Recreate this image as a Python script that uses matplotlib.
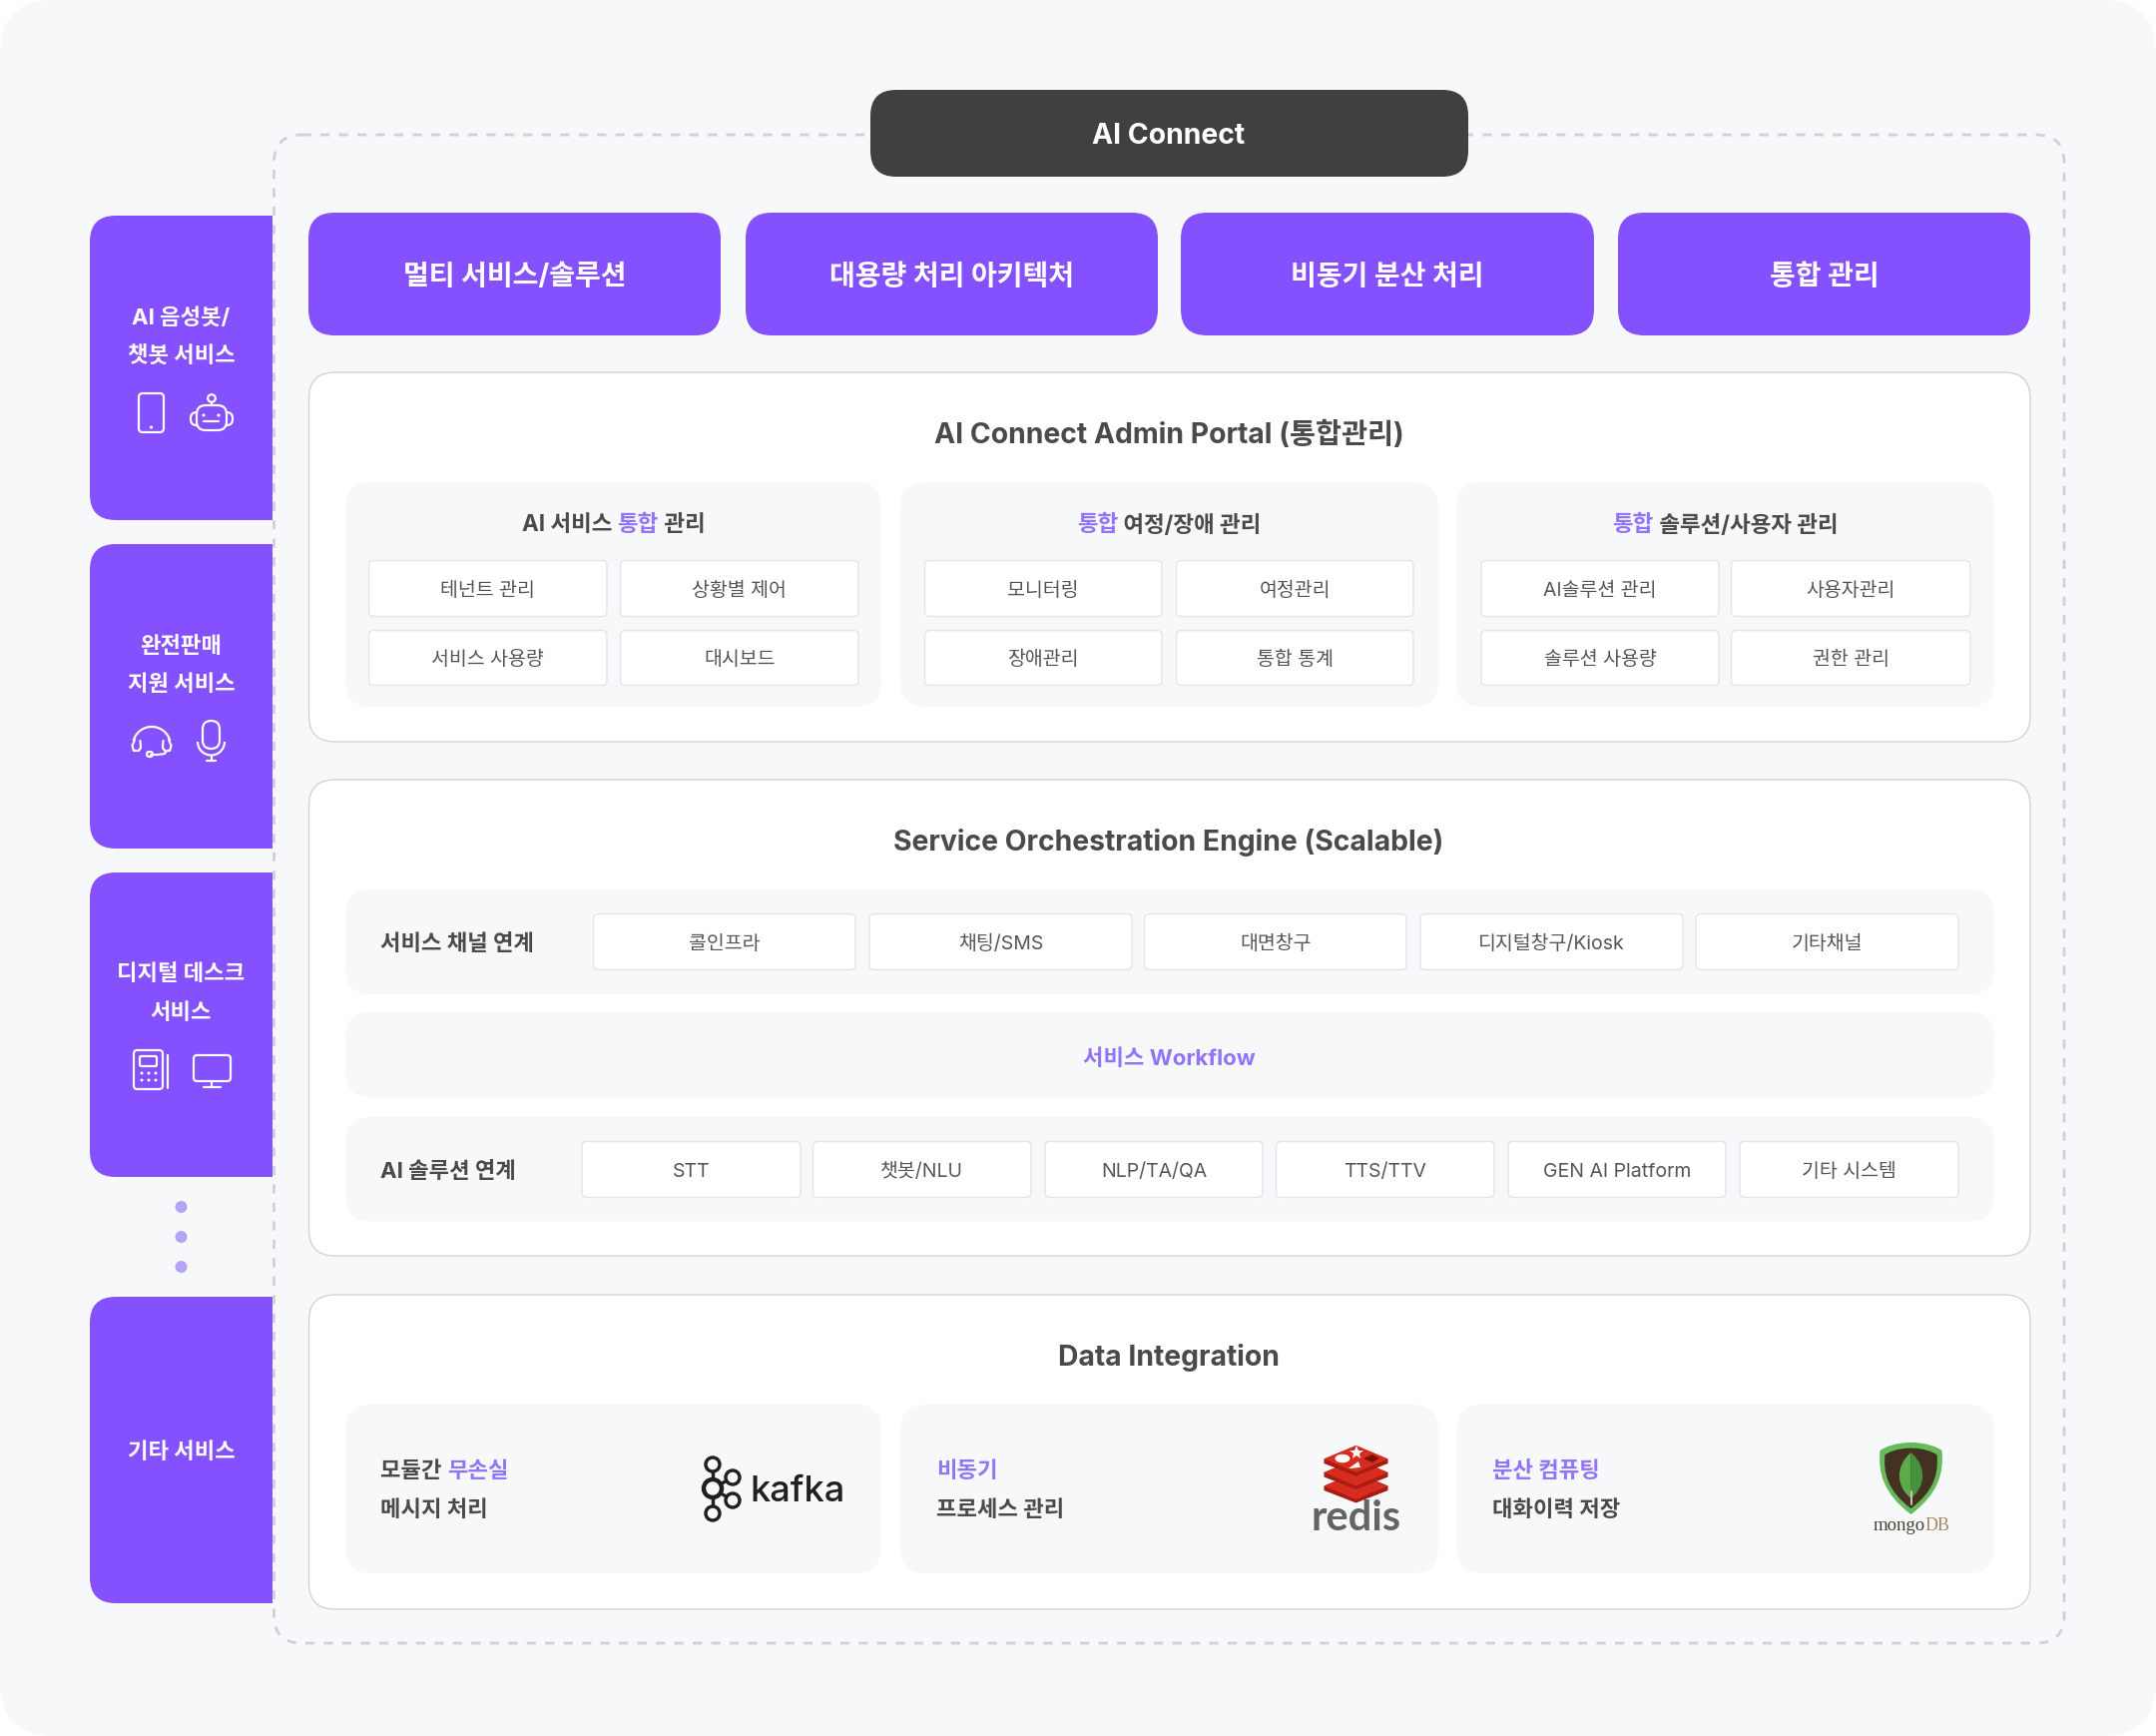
import matplotlib
matplotlib.use("Agg")
import matplotlib.pyplot as plt
from matplotlib.patches import FancyBboxPatch, PathPatch, Circle, Ellipse, Polygon, Arc
from matplotlib.path import Path

plt.rcParams['font.family'] = ['Inter', 'Noto Sans CJK KR', 'DejaVu Sans']

# labels
main_title = "AI Connect"
top_labels = ["멀티 서비스/솔루션", "대용량 처리 아키텍처", "비동기 분산 처리", "통합 관리"]
side_labels = [["AI 음성봇/", "챗봇 서비스"], ["완전판매", "지원 서비스"], ["디지털 데스크", "서비스"], ["기타 서비스"]]
portal_title = "AI Connect Admin Portal (통합관리)"
portal_heads = [[("AI 서비스 ", 0), ("통합", 1), (" 관리", 0)],
                [("통합", 1), (" 여정/장애 관리", 0)],
                [("통합", 1), (" 솔루션/사용자 관리", 0)]]
portal_cells = [["테넌트 관리", "상황별 제어", "서비스 사용량", "대시보드"],
                ["모니터링", "여정관리", "장애관리", "통합 통계"],
                ["AI솔루션 관리", "사용자관리", "솔루션 사용량", "권한 관리"]]
engine_title = "Service Orchestration Engine (Scalable)"
channel_label = "서비스 채널 연계"
channels = ["콜인프라", "채팅/SMS", "대면창구", "디지털창구/Kiosk", "기타채널"]
workflow_label = "서비스 Workflow"
solution_label = "AI 솔루션 연계"
solutions = ["STT", "챗봇/NLU", "NLP/TA/QA", "TTS/TTV", "GEN AI Platform", "기타 시스템"]
data_title = "Data Integration"
data_lines = [[("모듈간 ", 0), ("무손실", 1)], [("비동기", 1)], [("분산 컴퓨팅", 1)]]
data_lines2 = ["메시지 처리", "프로세스 관리", "대화이력 저장"]

PURPLE = "#8551FF"
ACCENT = "#9274FB"
DARK = "#4A4A4A"
GREY_BG = "#F7F8FA"
PX = 72 / 100  # one pixel in points

fig = plt.figure(figsize=(21.6, 17.39), dpi=100, facecolor="white")
ax = fig.add_axes([0, 0, 1, 1])
ax.set_xlim(0, 2160)
ax.set_ylim(1739, 0)
ax.axis("off")


def box(x0, y0, x1, y1, r, fc, ec="none", lw=0, **kw):
    p = FancyBboxPatch((x0, y0), x1 - x0, y1 - y0, boxstyle=f"round,pad=0,rounding_size={r}",
                       fc=fc, ec=ec, lw=lw * PX, **kw)
    ax.add_patch(p)
    return p


def label(x, y, s, size, color=DARK, weight="normal", ha="center", **kw):
    return ax.text(x, y, s, fontsize=size, color=color, fontweight=weight, ha=ha, va="center_baseline", **kw)


def mixed(x, y, parts, size, weight="bold", center=False):
    # colored runs of one line, put one after the other
    r = fig.canvas.get_renderer()
    ts = [label(x, y, s, size, ACCENT if c else DARK, weight, ha="left") for s, c in parts]
    ws = [t.get_window_extent(r).width for t in ts]
    cur = x - sum(ws) / 2 if center else x
    for t, w in zip(ts, ws):
        t.set_x(cur)
        cur += w


def side_panel(x0, y0, x1, y1, r=26):
    v = [(x1, y0), (x0 + r, y0), (x0, y0), (x0, y0 + r), (x0, y1 - r), (x0, y1), (x0 + r, y1), (x1, y1), (x1, y0)]
    c = [Path.MOVETO, Path.LINETO, Path.CURVE3, Path.CURVE3, Path.LINETO, Path.CURVE3, Path.CURVE3, Path.LINETO, Path.CLOSEPOLY]
    ax.add_patch(PathPatch(Path(v, c), fc=PURPLE, ec="none"))


def wline(xs, ys, color="white", lw=2.2):
    ax.plot(xs, ys, color=color, lw=lw * PX, solid_capstyle="round")


def wbox(x0, y0, x1, y1, r, fc="none", lw=2.2):
    box(x0, y0, x1, y1, r, fc, "white", lw)


def icons():
    # phone
    wbox(139, 394, 164, 433, 4)
    ax.add_patch(Circle((151.5, 428), 1.6, fc="white"))
    # robot
    wbox(191, 413, 233, 426, 6, PURPLE)
    wbox(197, 406, 227, 431, 9, PURPLE)
    ax.add_patch(Circle((212, 399), 3.8, fc="none", ec="white", lw=2.2 * PX))
    wline([212, 212], [403, 406], )
    ax.add_patch(Circle((204, 416), 1.6, fc="white"))
    ax.add_patch(Circle((219, 416), 1.6, fc="white"))
    wline([204, 219], [422, 422])
    # headset
    ax.add_patch(Arc((152, 747), 38, 38, theta1=195, theta2=345, ec="white", lw=2.2 * PX))
    wline([135, 132.5, 134, 139, 141, 140.5], [741, 747, 752, 752, 749, 742])
    wline([169, 171.5, 170, 165, 163, 163.5], [741, 747, 752, 752, 749, 742])
    wline([167, 165, 158, 151], [752, 755, 756, 756])
    wbox(147, 753, 153, 758, 2.5)
    # mic
    wbox(203, 722, 220, 750, 8.5)
    ax.add_patch(Arc((211.5, 743), 27, 27, theta1=0, theta2=180, ec="white", lw=2.2 * PX))
    wline([211.5, 211.5], [757, 762])
    wline([207, 216], [762, 762])
    # kiosk
    wbox(134, 1052, 163, 1091, 3.5)
    wbox(140, 1058, 157, 1068, 1.5)
    for dy in (1075, 1082):
        for dx in (142, 149, 156):
            ax.add_patch(Circle((dx, dy), 1.5, fc="white"))
    wline([168, 168], [1057, 1090])
    # monitor
    wbox(194, 1057, 231, 1083, 3.5)
    wline([212, 212], [1083, 1089])
    wline([204, 221], [1089, 1089])


def kafka_logo():
    c = "#231F20"
    hub = (714, 1491)
    for p, r in [((714, 1467), 7), ((734, 1480), 7), ((734, 1503), 7), ((714, 1516), 7)]:
        ax.plot([hub[0], p[0]], [hub[1], p[1]], color=c, lw=3.4 * PX, zorder=3)
        ax.add_patch(Circle(p, r, fc=GREY_BG, ec=c, lw=3.4 * PX, zorder=4))
    ax.add_patch(Circle(hub, 9, fc=GREY_BG, ec=c, lw=4.4 * PX, zorder=4))
    ax.text(798.5, 1504, "kafka", fontsize=26, color=c, family="Inter", fontweight="medium", ha="center", va="baseline")


def redis_logo():
    for off in (27, 13.5, 0):
        cx, t = 1358.5, 1448 + off
        ax.add_patch(Polygon([(cx - 32, t + 13.5), (cx, t), (cx + 32, t + 13.5), (cx + 32, t + 18), (cx, t + 27.5 + 3), (cx - 32, t + 18)],
                             fc="#A41E11", ec="none"))
        ax.add_patch(Polygon([(cx - 32, t + 13.5), (cx, t), (cx + 32, t + 13.5), (cx, t + 27)], fc="#D82C20", ec="none"))
    ax.add_patch(Ellipse((1345, 1461), 15, 8.5, fc="white"))
    ax.plot([1359], [1455], marker="*", ms=11 * PX * 1.3, color="white", mew=0)
    ax.add_patch(Polygon([(1351, 1471), (1363, 1470), (1361, 1464)], fc="white"))
    ax.add_patch(Polygon([(1366, 1461), (1375, 1457), (1382, 1461), (1375, 1465)], fc="#7A1208"))
    ax.text(1358.5, 1533, "redis", fontsize=30, color="#636466", family="Lato", fontweight="bold", ha="center", va="baseline")


def shield(scale, fc):
    cx, cy = 1914.5, 1480
    pts = [(0, -35), (-16, -35), (-27, -30), (-31, -27), (-33, -5), (-28, 16), (0, 37),
           (28, 16), (33, -5), (31, -27), (27, -30), (16, -35), (0, -35)]
    codes = [Path.MOVETO] + [Path.CURVE4] * 12
    v = [(cx + a * scale, cy + b * scale) for a, b in pts]
    ax.add_patch(PathPatch(Path(v, codes), fc=fc, ec="none"))


def mongo_logo():
    shield(1.0, "#66BB5A")
    shield(0.84, "#443122")
    wline([1914.5, 1914.5], [1494, 1507], "#C9C2AE", 2)
    cx = 1914.5
    left = [(cx, 1455), (cx - 17, 1470), (cx - 14, 1490), (cx, 1501)]
    right = [(cx, 1455), (cx + 17, 1470), (cx + 14, 1490), (cx, 1501)]
    cds = [Path.MOVETO, Path.CURVE4, Path.CURVE4, Path.CURVE4]
    ax.add_patch(PathPatch(Path(left, cds), fc="#5BAB48", ec="none"))
    ax.add_patch(PathPatch(Path(right, cds), fc="#45933F", ec="none"))
    ax.text(1929, 1533, "mongo", fontsize=13.5, color="#4A3A30", family="Liberation Serif", ha="right", va="baseline")
    ax.text(1929, 1533, "DB", fontsize=13, color="#A98A60", family="Liberation Serif", ha="left", va="baseline")


# page and dashed frame
box(0, 0, 2160, 1739, 55, GREY_BG)
box(274.5, 135, 2068, 1646, 28, "none", "#D0D1D4", 2.8, linestyle=(0, (3.3, 3.3)))
box(872, 90, 1471, 177, 26, "#404040")
label(1171, 134, main_title, 20.4, "white", "bold")

# top boxes
for (x0, x1), s in zip([(309, 722), (747, 1160), (1183, 1597), (1621, 2034)], top_labels):
    box(x0, 213, x1, 336, 26, PURPLE)
    label((x0 + x1) / 2, 274, s, 20.2, "white", "bold")

# left column
side_boxes = [(216, 521), (545, 850), (874, 1179), (1299, 1606)]
side_ys = [[316, 355], [645, 684], [974, 1013], [1453]]
for (y0, y1), lines, ys in zip(side_boxes, side_labels, side_ys):
    side_panel(90, y0, 273, y1)
    for s, y in zip(lines, ys):
        label(181.5, y, s, 16, "white", "bold")
icons()
for y in (1209, 1239, 1269):
    ax.add_patch(Circle((181.5, y), 6, fc="#B7A3F5"))

# white sections
for y0, y1 in [(373, 743), (781, 1258), (1297, 1612)]:
    box(309.5, y0, 2034, y1, 26, "white", "#D0D1D3", 1.3)
label(1171, 433, portal_title, 20.4, DARK, "bold")
label(1171, 841, engine_title, 20.4, DARK, "bold")
label(1171, 1357, data_title, 20.4, DARK, "bold")

# portal groups
groups = [(346, 883), (902, 1441), (1459, 1998)]
cell_xs = [[(369.5, 608), (621.5, 860)], [(926.5, 1164), (1178.5, 1416)], [(1484, 1722), (1734.5, 1974)]]
for (x0, x1), head, cells, xs in zip(groups, portal_heads, portal_cells, cell_xs):
    box(x0, 483, x1, 708, 26, GREY_BG)
    mixed((x0 + x1) / 2, 524, head, 16.2, center=True)
    for i, s in enumerate(cells):
        cx0, cx1 = xs[i % 2]
        cy0, cy1 = [(561.5, 617.5), (631.5, 686.5)][i // 2]
        box(cx0, cy0, cx1, cy1, 5, "white", "#E4E5E8", 1.4)
        label((cx0 + cx1) / 2, (cy0 + cy1) / 2, s, 14, "#555555")

# engine rows
for y0, y1 in [(891, 996), (1014, 1099.5), (1119, 1223.5)]:
    box(346, y0, 1998, y1, 26, GREY_BG)
label(381, 944, channel_label, 16, DARK, "bold", ha="left")
for (x0, x1), s in zip([(594.5, 857), (871, 1134), (1146.5, 1409), (1423, 1686), (1699, 1962)], channels):
    box(x0, 915.5, x1, 971.5, 5, "white", "#E4E5E8", 1.4)
    label((x0 + x1) / 2, 944, s, 14, "#555555")
label(1171, 1059, workflow_label, 16, ACCENT, "bold")
label(381, 1172, solution_label, 16, DARK, "bold", ha="left")
for (x0, x1), s in zip([(583, 802), (814.5, 1033), (1047, 1265), (1278.5, 1497), (1511, 1729), (1743, 1962)], solutions):
    box(x0, 1143.5, x1, 1199.5, 5, "white", "#E4E5E8", 1.4)
    label((x0 + x1) / 2, 1172, s, 14, "#555555")

# data integration
for (x0, x1), tx, parts, s in zip(groups, [381, 938, 1495], data_lines, data_lines2):
    box(x0, 1407, x1, 1576, 26, GREY_BG)
    mixed(tx, 1472, parts, 16)
    label(tx, 1511, s, 16, DARK, "bold", ha="left")
kafka_logo()
redis_logo()
mongo_logo()

fig.savefig("out.png", dpi=100, facecolor="white")
